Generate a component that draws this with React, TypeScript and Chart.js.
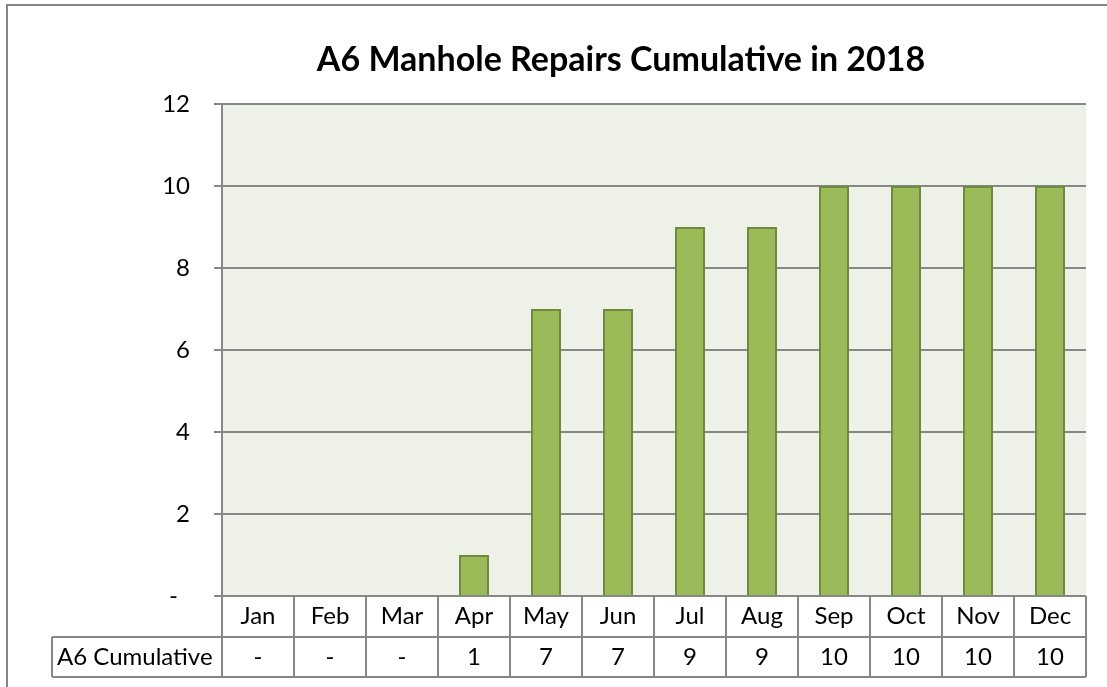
import React, { useEffect, useRef } from 'react';
import { Chart, registerables } from 'chart.js';

Chart.register(...registerables);

const TITLE = 'A6 Manhole Repairs Cumulative in 2018';
const MONTHS = ['Jan', 'Feb', 'Mar', 'Apr', 'May', 'Jun', 'Jul', 'Aug', 'Sep', 'Oct', 'Nov', 'Dec'];
const SERIES_LABEL = 'A6 Cumulative';
const CUMULATIVE = [0, 0, 0, 1, 7, 7, 9, 9, 10, 10, 10, 10];
const Y_MIN = 0;
const Y_MAX = 12;
const Y_STEP = 2;

const FONT = 'Lato, "Noto Sans", "DejaVu Sans", sans-serif';
const GRID = '#878787';
const fmt = (v: number) => (v === 0 ? '-' : String(v));

const W = 1107;
const H = 687;

export default function App() {
  const ref = useRef<HTMLCanvasElement | null>(null);

  useEffect(() => {
    if (!ref.current) return;

    const decor = {
      id: 'excelDecor',
      beforeDraw(chart: any) {
        const { ctx, chartArea } = chart;
        ctx.save();
        ctx.fillStyle = '#ffffff';
        ctx.fillRect(0, 0, chart.width, chart.height);
        ctx.strokeStyle = GRID;
        ctx.lineWidth = 2;
        ctx.beginPath();
        ctx.moveTo(7, chart.height);
        ctx.lineTo(7, 5);
        ctx.lineTo(chart.width, 5);
        ctx.stroke();
        ctx.fillStyle = '#EEF1E8';
        ctx.fillRect(chartArea.left, chartArea.top, chartArea.right - chartArea.left, chartArea.bottom - chartArea.top);
        ctx.restore();
      },
      afterDraw(chart: any) {
        const { ctx, chartArea } = chart;
        const xs = chart.scales.x;
        ctx.save();
        ctx.fillStyle = '#000000';
        ctx.font = `bold 34px ${FONT}`;
        ctx.textAlign = 'center';
        ctx.textBaseline = 'alphabetic';
        ctx.fillText(TITLE, 621, 71);

        const n = MONTHS.length;
        const colW = xs.getPixelForValue(1) - xs.getPixelForValue(0);
        const row1Top = chartArea.bottom;
        const row2Top = xs.bottom;
        const row2Bot = row2Top + 40;
        const labelLeft = 52;
        const tableRight = xs.getPixelForValue(n - 1) + colW / 2;
        const tableLeft = xs.getPixelForValue(0) - colW / 2;
        ctx.strokeStyle = GRID;
        ctx.lineWidth = 2;
        ctx.beginPath();
        ctx.moveTo(tableLeft, row1Top);
        ctx.lineTo(tableRight, row1Top);
        ctx.moveTo(labelLeft, row2Top);
        ctx.lineTo(tableRight, row2Top);
        ctx.moveTo(labelLeft, row2Bot);
        ctx.lineTo(tableRight, row2Bot);
        ctx.moveTo(labelLeft, row2Top);
        ctx.lineTo(labelLeft, row2Bot);
        for (let i = 0; i <= n; i++) {
          const x = i < n ? xs.getPixelForValue(i) - colW / 2 : tableRight;
          ctx.moveTo(x, row1Top);
          ctx.lineTo(x, row2Bot);
        }
        ctx.stroke();

        ctx.font = `24px ${FONT}`;
        ctx.textBaseline = 'middle';
        ctx.textAlign = 'left';
        const midY = (row2Top + row2Bot) / 2;
        ctx.fillText(SERIES_LABEL, labelLeft + 5, midY);
        ctx.textAlign = 'center';
        CUMULATIVE.forEach((v, i) => {
          ctx.fillText(fmt(v), xs.getPixelForValue(i), midY);
        });
        ctx.restore();
      },
    };

    const chart = new Chart(ref.current, {
      type: 'bar',
      data: {
        labels: MONTHS,
        datasets: [
          {
            label: SERIES_LABEL,
            data: CUMULATIVE,
            backgroundColor: '#9BBB59',
            borderColor: '#6F8A3C',
            borderWidth: 2,
            categoryPercentage: 1,
            barPercentage: 0.417,
          },
        ],
      },
      options: {
        responsive: false,
        animation: false,
        layout: { padding: { left: 0, right: 21, top: 104, bottom: 50 } },
        plugins: {
          legend: { display: false },
          tooltip: { enabled: false },
          title: { display: false },
        },
        scales: {
          x: {
            type: 'category',
            offset: true,
            grid: { display: false, drawTicks: false },
            border: { display: false },
            ticks: {
              color: '#000000',
              font: { family: FONT, size: 24 },
              padding: 6,
              maxRotation: 0,
              autoSkip: false,
            },
            afterFit: (s: any) => {
              s.height = 41;
            },
          },
          y: {
            min: Y_MIN,
            max: Y_MAX,
            grid: { color: GRID, lineWidth: 2, tickLength: 8, drawTicks: true, tickColor: GRID },
            border: { display: true, color: GRID, width: 2 },
            ticks: {
              stepSize: Y_STEP,
              color: '#000000',
              font: { family: FONT, size: 24 },
              padding: 24,
              callback: (v: any) => (Number(v) === 0 ? '-\u2002' : String(v)),
            },
            afterFit: (s: any) => {
              s.width = 222;
            },
          },
        },
      },
      plugins: [decor],
    });

    return () => chart.destroy();
  }, []);

  return (
    <div style={{ position: 'absolute', left: 0, top: 0, width: W, height: H }}>
      <canvas ref={ref} width={W} height={H} style={{ display: 'block' }} />
    </div>
  );
}
